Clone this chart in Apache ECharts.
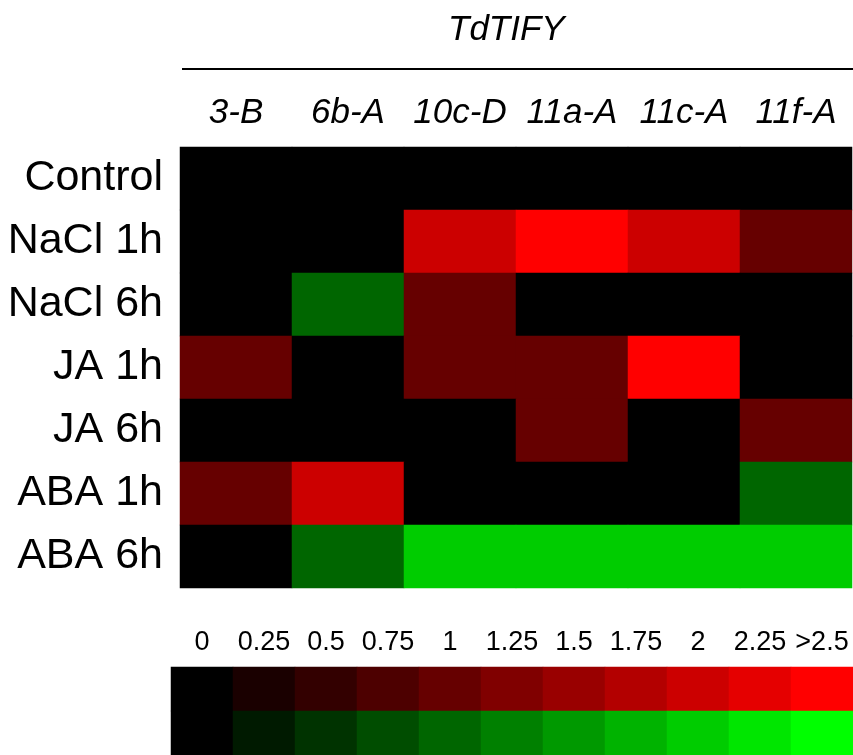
<!DOCTYPE html>
<html>
<head>
<meta charset="utf-8">
<title>TdTIFY heatmap</title>
<script src="https://cdn.jsdelivr.net/npm/echarts@6/dist/echarts.min.js"></script>
<style>
  html, body { margin: 0; padding: 0; background: #fff; }
  #main { width: 853px; height: 755px; }
</style>
</head>
<body>
<div id="main"></div>
<script>
// 基因 / 处理
var genes = ['3-B', '6b-A', '10c-D', '11a-A', '11c-A', '11f-A'];
var treatments = ['Control', 'NaCl 1h', 'NaCl 6h', 'JA 1h', 'JA 6h', 'ABA 1h', 'ABA 6h'];

// 表达量 (正 = 红, 负 = 绿), 每行一个处理
var rowControl = [0, 0, 0, 0, 0, 0];
var rowNaCl1h  = [0, 0, 2, 2.5, 2, 1];
var rowNaCl6h  = [0, -1, 1, 0, 0, 0];
var rowJA1h    = [1, 0, 1, 1, 2.5, 0];
var rowJA6h    = [0, 0, 0, 1, 0, 1];
var rowABA1h   = [1, 2, 0, 0, 0, -1];
var rowABA6h   = [0, -1, -2, -2, -2, -2];
var rows = [rowControl, rowNaCl1h, rowNaCl6h, rowJA1h, rowJA6h, rowABA1h, rowABA6h];

// 色标
var scaleLabels = ['0', '0.25', '0.5', '0.75', '1', '1.25', '1.5', '1.75', '2', '2.25', '>2.5'];
var scaleUp   = [0, 0.25, 0.5, 0.75, 1, 1.25, 1.5, 1.75, 2, 2.25, 2.5];
var scaleDown = [0, -0.25, -0.5, -0.75, -1, -1.25, -1.5, -1.75, -2, -2.25, -2.5];

var font = 'Liberation Sans';

var heatData = [];
rows.forEach(function (r, i) {
  r.forEach(function (v, j) {
    heatData.push([j, i, v]);
  });
});

var scaleData = [];
scaleUp.forEach(function (v, j) { scaleData.push([j, 0, v]); });
scaleDown.forEach(function (v, j) { scaleData.push([j, 1, v]); });

var chart = echarts.init(document.getElementById('main'), null, { renderer: 'canvas' });

var option = {
  backgroundColor: '#fff',
  animation: false,
  title: {
    text: 'TdTIFY',
    left: 443,
    top: 8,
    textStyle: { fontFamily: font, fontStyle: 'italic', fontWeight: 'normal', fontSize: 35, color: '#000' }
  },
  graphic: [{
    type: 'line',
    shape: { x1: 182, y1: 69, x2: 853, y2: 69 },
    style: { stroke: '#000', lineWidth: 2 }
  }],
  grid: [
    // 整数格宽, 避免格子之间出现缝
    { left: 180, width: 672, top: 147, height: 441 },
    { left: 171, width: 682, top: 667, height: 88 }
  ],
  xAxis: [
    {
      type: 'category', gridIndex: 0, data: genes, position: 'top',
      axisLine: { show: false }, axisTick: { show: false }, splitLine: { show: false },
      axisLabel: { margin: 16, fontFamily: font, fontStyle: 'italic', fontSize: 35, color: '#000', interval: 0 }
    },
    {
      type: 'category', gridIndex: 1, data: scaleLabels, position: 'top',
      axisLine: { show: false }, axisTick: { show: false }, splitLine: { show: false },
      axisLabel: { margin: 11, fontFamily: font, fontSize: 27, color: '#000', interval: 0 }
    }
  ],
  yAxis: [
    {
      type: 'category', gridIndex: 0, data: treatments, inverse: true,
      axisLine: { show: false }, axisTick: { show: false }, splitLine: { show: false },
      axisLabel: { margin: 17, fontFamily: font, fontSize: 43, color: '#000', interval: 0 }
    },
    {
      type: 'category', gridIndex: 1, data: ['up', 'down'], inverse: true,
      axisLine: { show: false }, axisTick: { show: false }, splitLine: { show: false },
      axisLabel: { show: false }
    }
  ],
  visualMap: {
    show: false,
    type: 'continuous',
    min: -2.5,
    max: 2.5,
    seriesIndex: [0, 1],
    inRange: { color: ['#00ff00', '#000000', '#ff0000'] }
  },
  series: [
    {
      type: 'heatmap', xAxisIndex: 0, yAxisIndex: 0, data: heatData,
      itemStyle: { borderWidth: 0 }, emphasis: { disabled: true }
    },
    {
      type: 'heatmap', xAxisIndex: 1, yAxisIndex: 1, data: scaleData,
      itemStyle: { borderWidth: 0 }, emphasis: { disabled: true }
    }
  ]
};

chart.setOption(option);
</script>
</body>
</html>
